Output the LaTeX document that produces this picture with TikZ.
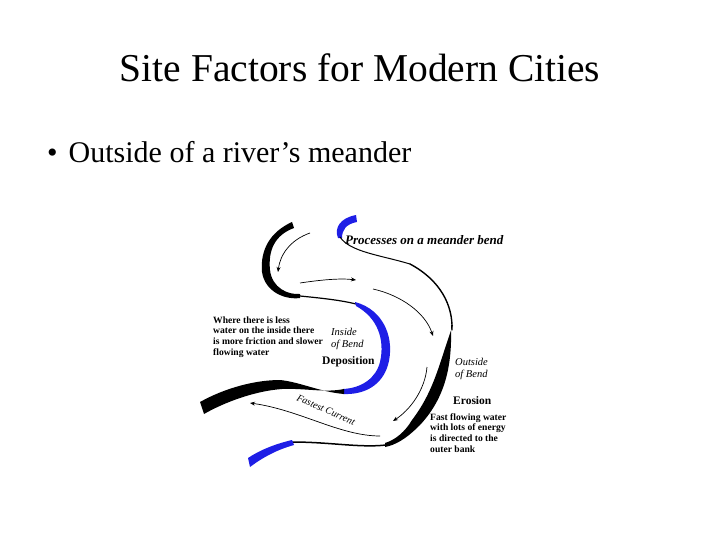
\documentclass[tikz,border=0pt]{standalone}
\usepackage{fontspec}
\setmainfont{Liberation Serif}
\usetikzlibrary{arrows.meta}
\definecolor{rblue}{RGB}{30,30,230}
\tikzset{
 bank/.style={line cap=round,line join=round},
 flow/.style={-{Stealth[length=5pt,width=4pt]},line width=0.7pt},
 small/.style={font=\fontsize{9.6}{10.8}\selectfont\bfseries,align=left,anchor=west,inner sep=0},
 ital/.style={font=\fontsize{10.5}{12}\selectfont\itshape,align=left,anchor=west,inner sep=0}
}
\begin{document}
\begin{tikzpicture}[x=1pt,y=-1pt]
\useasboundingbox (0,0) rectangle (720,540);
\node (title) at (360,68) {\fontsize{39.5}{42}\selectfont Site Factors for Modern Cities};
\node[anchor=west,inner sep=0] (bul) at (47,152) {\fontsize{30}{32}\selectfont •\hspace{11pt}Outside of a river’s meander};
% outer bank
\fill[rblue] (338,238) .. controls (334,228) and (340,218) .. (356,215) -- (357,222) .. controls (346,224) and (342,230) .. (342,238) -- cycle;
\draw[bank,line width=1pt] (340,237) .. controls (350,252) and (380,255) .. (410,264);
\draw[bank,line width=1.4pt] (410,264) .. controls (440,280) and (453,305) .. (452,330);
\fill[black] (451,325) .. controls (452,360) and (448,395) .. (420,425) .. controls (405,440) and (395,445) .. (385,447)
 -- (385,443) .. controls (395,440) and (405,432) .. (412,420) .. controls (435,390) and (440,360) .. (453,325) -- cycle;
\draw[bank,line width=1.5pt] (386,445) .. controls (360,448) and (330,442) .. (292,442);
\fill[rblue] (292,440) .. controls (275,444) and (260,450) .. (248,458) -- (250,467) .. controls (262,458) and (276,450) .. (294,445) -- cycle;
% inner bank
\fill[black] (292,222) .. controls (270,232) and (260,250) .. (262,272) .. controls (265,292) and (285,300) .. (300,298)
 -- (300,294) .. controls (288,295) and (272,288) .. (270,270) .. controls (268,250) and (275,235) .. (294,228) -- cycle;
\draw[bank,line width=1.2pt] (300,296) .. controls (320,298) and (340,300) .. (356,304);
\fill[rblue] (355,302) .. controls (385,310) and (395,340) .. (388,365) .. controls (382,385) and (365,395) .. (343,394)
 -- (343,389) .. controls (362,388) and (376,378) .. (380,362) .. controls (385,340) and (378,318) .. (356,306) -- cycle;
\fill[black] (344,394) .. controls (320,392) and (300,382) .. (280,380) .. controls (255,380) and (225,388) .. (200,402)
 -- (204,414) .. controls (225,402) and (255,391) .. (282,389) .. controls (305,388) and (325,393) .. (344,389) -- cycle;
% arrows
\coordinate (a1s) at (310,233); \coordinate (a1e) at (278,272);
\draw[flow] (a1s) .. controls (290,240) and (280,255) .. (a1e);
\coordinate (a2s) at (300,283); \coordinate (a2e) at (356,280);
\draw[flow] (a2s) .. controls (320,280) and (340,278) .. (a2e);
\coordinate (a3s) at (373,289); \coordinate (a3e) at (433,336);
\draw[flow] (a3s) .. controls (400,295) and (425,312) .. (a3e);
\coordinate (a4s) at (427,367); \coordinate (a4e) at (393,421);
\draw[flow] (a4s) .. controls (425,390) and (410,410) .. (a4e);
\coordinate (a5s) at (380,436); \coordinate (a5e) at (250,403);
\draw[flow] (a5s) .. controls (340,436) and (300,410) .. (a5e);
% labels
\node[ital,font=\fontsize{13}{14}\selectfont\bfseries\itshape] (proc) at (345,240) {Processes on a meander bend};
\node[small] (where) at (213,337) {Where there is less\\water on the inside there\\is more friction and slower\\flowing water};
\node[ital] (inside) at (331,339) {Inside\\of Bend};
\node[small,font=\fontsize{11.5}{12}\selectfont\bfseries] (dep) at (322,362) {Deposition};
\node[ital] (outside) at (455,369) {Outside\\of Bend};
\node[small,font=\fontsize{11.5}{12}\selectfont\bfseries] (ero) at (453,401) {Erosion};
\node[small] (fast) at (430,433) {Fast flowing water\\with lots of energy\\is directed to the\\outer bank};
\node[font=\fontsize{10}{12}\selectfont\itshape,rotate=-24,inner sep=0] (fc) at (326,410) {Fastest Current};
\end{tikzpicture}
\end{document}
